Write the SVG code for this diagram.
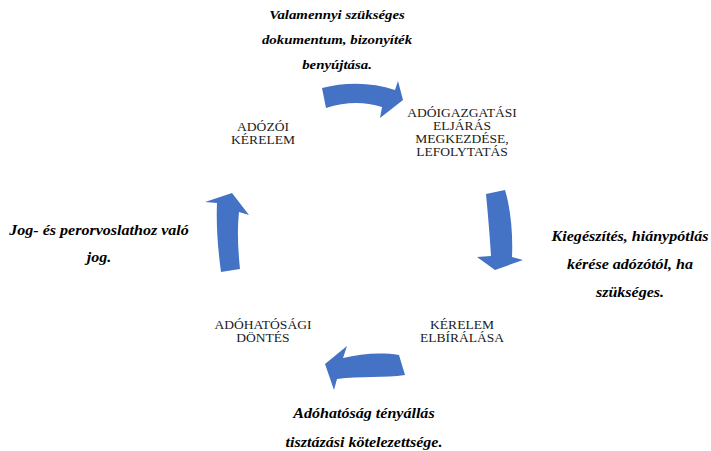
<svg xmlns="http://www.w3.org/2000/svg" width="711" height="451" viewBox="0 0 711 451">
<style>
.node{font-family:"Liberation Serif","Times New Roman",serif;font-size:12.3px;fill:#1a1a1a;text-anchor:middle}
.lbl{font-family:"Liberation Serif","Times New Roman",serif;font-size:14.6px;font-weight:bold;font-style:italic;fill:#000;text-anchor:middle}
.lbl.top{font-size:13.5px}
.arr{fill:#4472C4}
</style>
<rect width="711" height="451" fill="#fff"/>
<g id="connectors">
<path class="arr" d="M322,88 C345,82 372,82 395,90 L398,81 L403,100 L380,118 L382,107 C363,101 345,102 326,108 Z"/>
<path class="arr" d="M486,194 C488,215 490,238 491,256 L477,257 L495,270 L523,260 L512,257 C513,235 511,210 505,190 Z"/>
<path class="arr" d="M399,355 C380,352 360,354 343,358 L347,346 L325,364 L334,390 L337,379 C360,376 385,378 405,375 Z"/>
<path class="arr" d="M221,272 C218,250 216,225 217,203 L205,202 L232,193 L249,215 L239,212 C237,230 238,250 240,269 Z"/>
</g>
<g id="node-adozoi-kerelem" transform="translate(263,0) scale(1.1,1)">
<text class="node" x="0" y="131">ADÓZÓI</text>
<text class="node" x="0" y="144">KÉRELEM</text>
</g>
<g id="node-adoigazgatasi" transform="translate(462,0) scale(1.1,1)">
<text class="node" x="0" y="117">ADÓIGAZGATÁSI</text>
<text class="node" x="0" y="130">ELJÁRÁS</text>
<text class="node" x="0" y="143">MEGKEZDÉSE,</text>
<text class="node" x="0" y="156">LEFOLYTATÁS</text>
</g>
<g id="node-kerelem-elbiralasa" transform="translate(462,0) scale(1.1,1)">
<text class="node" x="0" y="329">KÉRELEM</text>
<text class="node" x="0" y="342.5">ELBÍRÁLÁSA</text>
</g>
<g id="node-adohatosagi-dontes" transform="translate(263,0) scale(1.1,1)">
<text class="node" x="0" y="329">ADÓHATÓSÁGI</text>
<text class="node" x="0" y="342.5">DÖNTÉS</text>
</g>
<g id="label-top" transform="translate(337,0) scale(1.1,1)">
<text class="lbl top" x="0" y="19.5">Valamennyi szükséges</text>
<text class="lbl top" x="0" y="44">dokumentum, bizonyíték</text>
<text class="lbl top" x="0" y="69">benyújtása.</text>
</g>
<g id="label-right" transform="translate(630,0) scale(1.1,1)">
<text class="lbl" x="0" y="241">Kiegészítés, hiánypótlás</text>
<text class="lbl" x="0" y="269">kérése adózótól, ha</text>
<text class="lbl" x="0" y="297">szükséges.</text>
</g>
<g id="label-bottom" transform="translate(364,0) scale(1.1,1)">
<text class="lbl" x="0" y="418">Adóhatóság tényállás</text>
<text class="lbl" x="0" y="447">tisztázási kötelezettsége.</text>
</g>
<g id="label-left" transform="translate(99,0) scale(1.1,1)">
<text class="lbl" x="0" y="235">Jog- és perorvoslathoz való</text>
<text class="lbl" x="0" y="262">jog.</text>
</g>
</svg>
